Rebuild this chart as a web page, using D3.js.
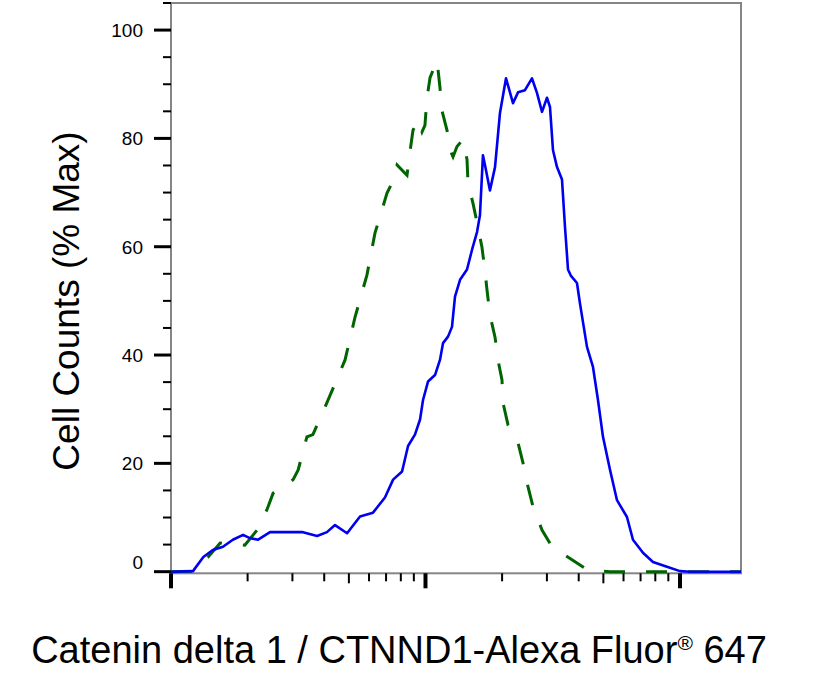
<!DOCTYPE html>
<html>
<head>
<meta charset="utf-8">
<script src="https://cdn.jsdelivr.net/npm/d3@7"></script>
<style>
  body { margin:0; background:#fff; }
  text { font-family: Arial, "Liberation Sans", sans-serif; }
</style>
</head>
<body>
<div id="chart"></div>
<script>
"use strict";

// fluorescence intensity (log axis) and % max counts
var stainedX = [100,122,134,146,160,175,192,204,220,245,293,330,375,410,441,492,553,622,693,746,809,854,909,952,978,1023,1090,1140,1172,1226,1271,1306,1367,1456,1523,1594,1637,1682,1729,1792,1876,1962,2072,2207,2310,2460,2620,2742,2870,3002,3085,3170,3287,3439,3534,3631,3731,3938,4047,4311,4552,4762,4983,5309,5656,6190,6536,7154,7832,8888,10000,10950,17370];
var stainedY = [0,0.1,2.7,4.0,4.6,5.9,6.8,6.2,5.9,7.3,7.3,7.3,6.6,7.3,8.6,7.1,10.2,10.9,13.7,17.0,18.5,23.2,25.3,28.1,31.7,35.1,36.3,39.1,42.2,43.4,45.2,50.8,53.9,55.8,59.4,62.7,65.8,76.9,74.1,70.4,74.7,84.7,91.1,86.5,88.5,88.9,91.1,88.4,84.9,87.5,85.8,77.8,74.7,72.4,63.6,55.8,54.6,53.3,49.5,41.5,37.8,31.7,24.9,18.8,13.2,10.1,5.9,3.5,1.8,0.9,0.1,0,0];

var controlX = [100,122,140,156,195,218,238,252,275,302,316,342,361,410,483,528,589,633,706,739,773,846,869,893,934,969,995,1014,1042,1110,1140,1161,1215,1248,1283,1330,1404,1456,1469,1537,1608,1667,1713,1745,1792,1876,1927,1998,2016,2110,2310,2416,2528,2645,2870,3141,3764,4350,5309,17370];
var controlY = [0,0.1,2.7,5.3,4.9,7.7,11.4,14.5,15.5,17.0,18.8,24.9,25.3,31.2,39.1,46.9,54.8,62.5,69.9,71.8,75.1,73.2,77.5,81.5,83.4,81.2,82.4,87.5,91.2,94.4,89.4,85.1,81.5,77.9,76.6,78.5,79.8,76.1,71.8,68.0,63.6,59.9,55.5,52.0,47.4,43.3,39.1,35.4,31.2,27.1,23.8,20.1,15.7,12.0,7.7,4.6,2.2,0.3,0,0];

var yTicks = [0,20,40,60,80,100];
var yMinor = [5,10,15,25,30,35,45,50,55,65,70,75,85,90,95,105];
var xMajor = [100,1000,10000];
var xMinor = [200,300,400,500,600,700,800,900,2000,3000,4000,5000,6000,7000,8000,9000];

(function(){

  var width = 817, height = 678;
  var left = 171, right = 741, plotTop = 3, bottom = 573.3;

  var svg = d3.select("#chart")
              .append("svg")
              .attr("width", width)
              .attr("height", height);

  var x = d3.scaleLog()
            .domain([100, 17370])
            .range([left, right]);

  var y = d3.scaleLinear()
            .domain([-0.3, 105])
            .range([bottom, plotTop]);

  var stained = stainedX.map(function(d,i){ return [d, stainedY[i]]; });
  var control = controlX.map(function(d,i){ return [d, controlY[i]]; });

  var line = d3.line()
               .x(function(d){ return x(d[0]); })
               .y(function(d){ return y(d[1]); });

  // frame
  svg.append("rect")
     .attr("x", left)
     .attr("y", plotTop)
     .attr("width", right-left)
     .attr("height", bottom-plotTop)
     .style("fill", "none")
     .style("stroke", "#858585")
     .style("stroke-width", 2);

  // curves
  svg.append("path")
     .datum(control)
     .attr("d", line)
     .style("fill", "none")
     .style("stroke", "#006400")
     .style("stroke-width", 3)
     .style("stroke-dasharray", "21,21");

  svg.append("path")
     .datum(stained)
     .attr("d", line)
     .style("fill", "none")
     .style("stroke", "#0000f0")
     .style("stroke-width", 2.6)
     .style("stroke-linejoin", "round");

  // y axis ticks
  svg.selectAll("line.ymajor")
     .data(yTicks)
     .enter()
     .append("line")
     .attr("class", "ymajor")
     .attr("x1", left-17)
     .attr("x2", left)
     .attr("y1", function(d){ return y(d); })
     .attr("y2", function(d){ return y(d); })
     .style("stroke", "#000")
     .style("stroke-width", 3);

  svg.selectAll("line.yminor")
     .data(yMinor)
     .enter()
     .append("line")
     .attr("class", "yminor")
     .attr("x1", left-8)
     .attr("x2", left)
     .attr("y1", function(d){ return y(d); })
     .attr("y2", function(d){ return y(d); })
     .style("stroke", "#000")
     .style("stroke-width", 2);

  svg.selectAll("text.ylabel")
     .data(yTicks)
     .enter()
     .append("text")
     .attr("class", "ylabel")
     .attr("x", left-28)
     .attr("y", function(d){ return y(d); })
     .attr("dy", function(d){ return d === 0 ? "-0.12em" : "0.36em"; })
     .attr("text-anchor", "end")
     .style("font-size", "19px")
     .style("fill", "#000")
     .text(function(d){ return d; });

  // x axis ticks (log decades, no labels)
  svg.selectAll("line.xmajor")
     .data(xMajor)
     .enter()
     .append("line")
     .attr("class", "xmajor")
     .attr("x1", function(d){ return x(d); })
     .attr("x2", function(d){ return x(d); })
     .attr("y1", bottom)
     .attr("y2", bottom+15)
     .style("stroke", "#000")
     .style("stroke-width", 4);

  svg.selectAll("line.xminor")
     .data(xMinor)
     .enter()
     .append("line")
     .attr("class", "xminor")
     .attr("x1", function(d){ return x(d); })
     .attr("x2", function(d){ return x(d); })
     .attr("y1", bottom)
     .attr("y2", function(d){ return String(d).charAt(0) === "5" ? bottom+10 : bottom+8; })
     .style("stroke", "#000")
     .style("stroke-width", 2);

  // titles
  svg.append("text")
     .attr("transform", "translate(" + 79 + "," + 301 + ") rotate(-90)")
     .attr("text-anchor", "middle")
     .style("font-size", "37px")
     .style("fill", "#000")
     .text("Cell Counts (% Max)");

  var xt = svg.append("text")
     .attr("x", 399)
     .attr("y", 663)
     .attr("text-anchor", "middle")
     .style("font-size", "38px")
     .style("fill", "#000");

  xt.append("tspan").text("Catenin delta 1 / CTNND1-Alexa Fluor");
  xt.append("tspan")
    .attr("dy", -13)
    .style("font-size", "21px")
    .text("\u00AE");
  xt.append("tspan")
    .attr("dy", 13)
    .text(" 647");

})();
</script>
</body>
</html>
